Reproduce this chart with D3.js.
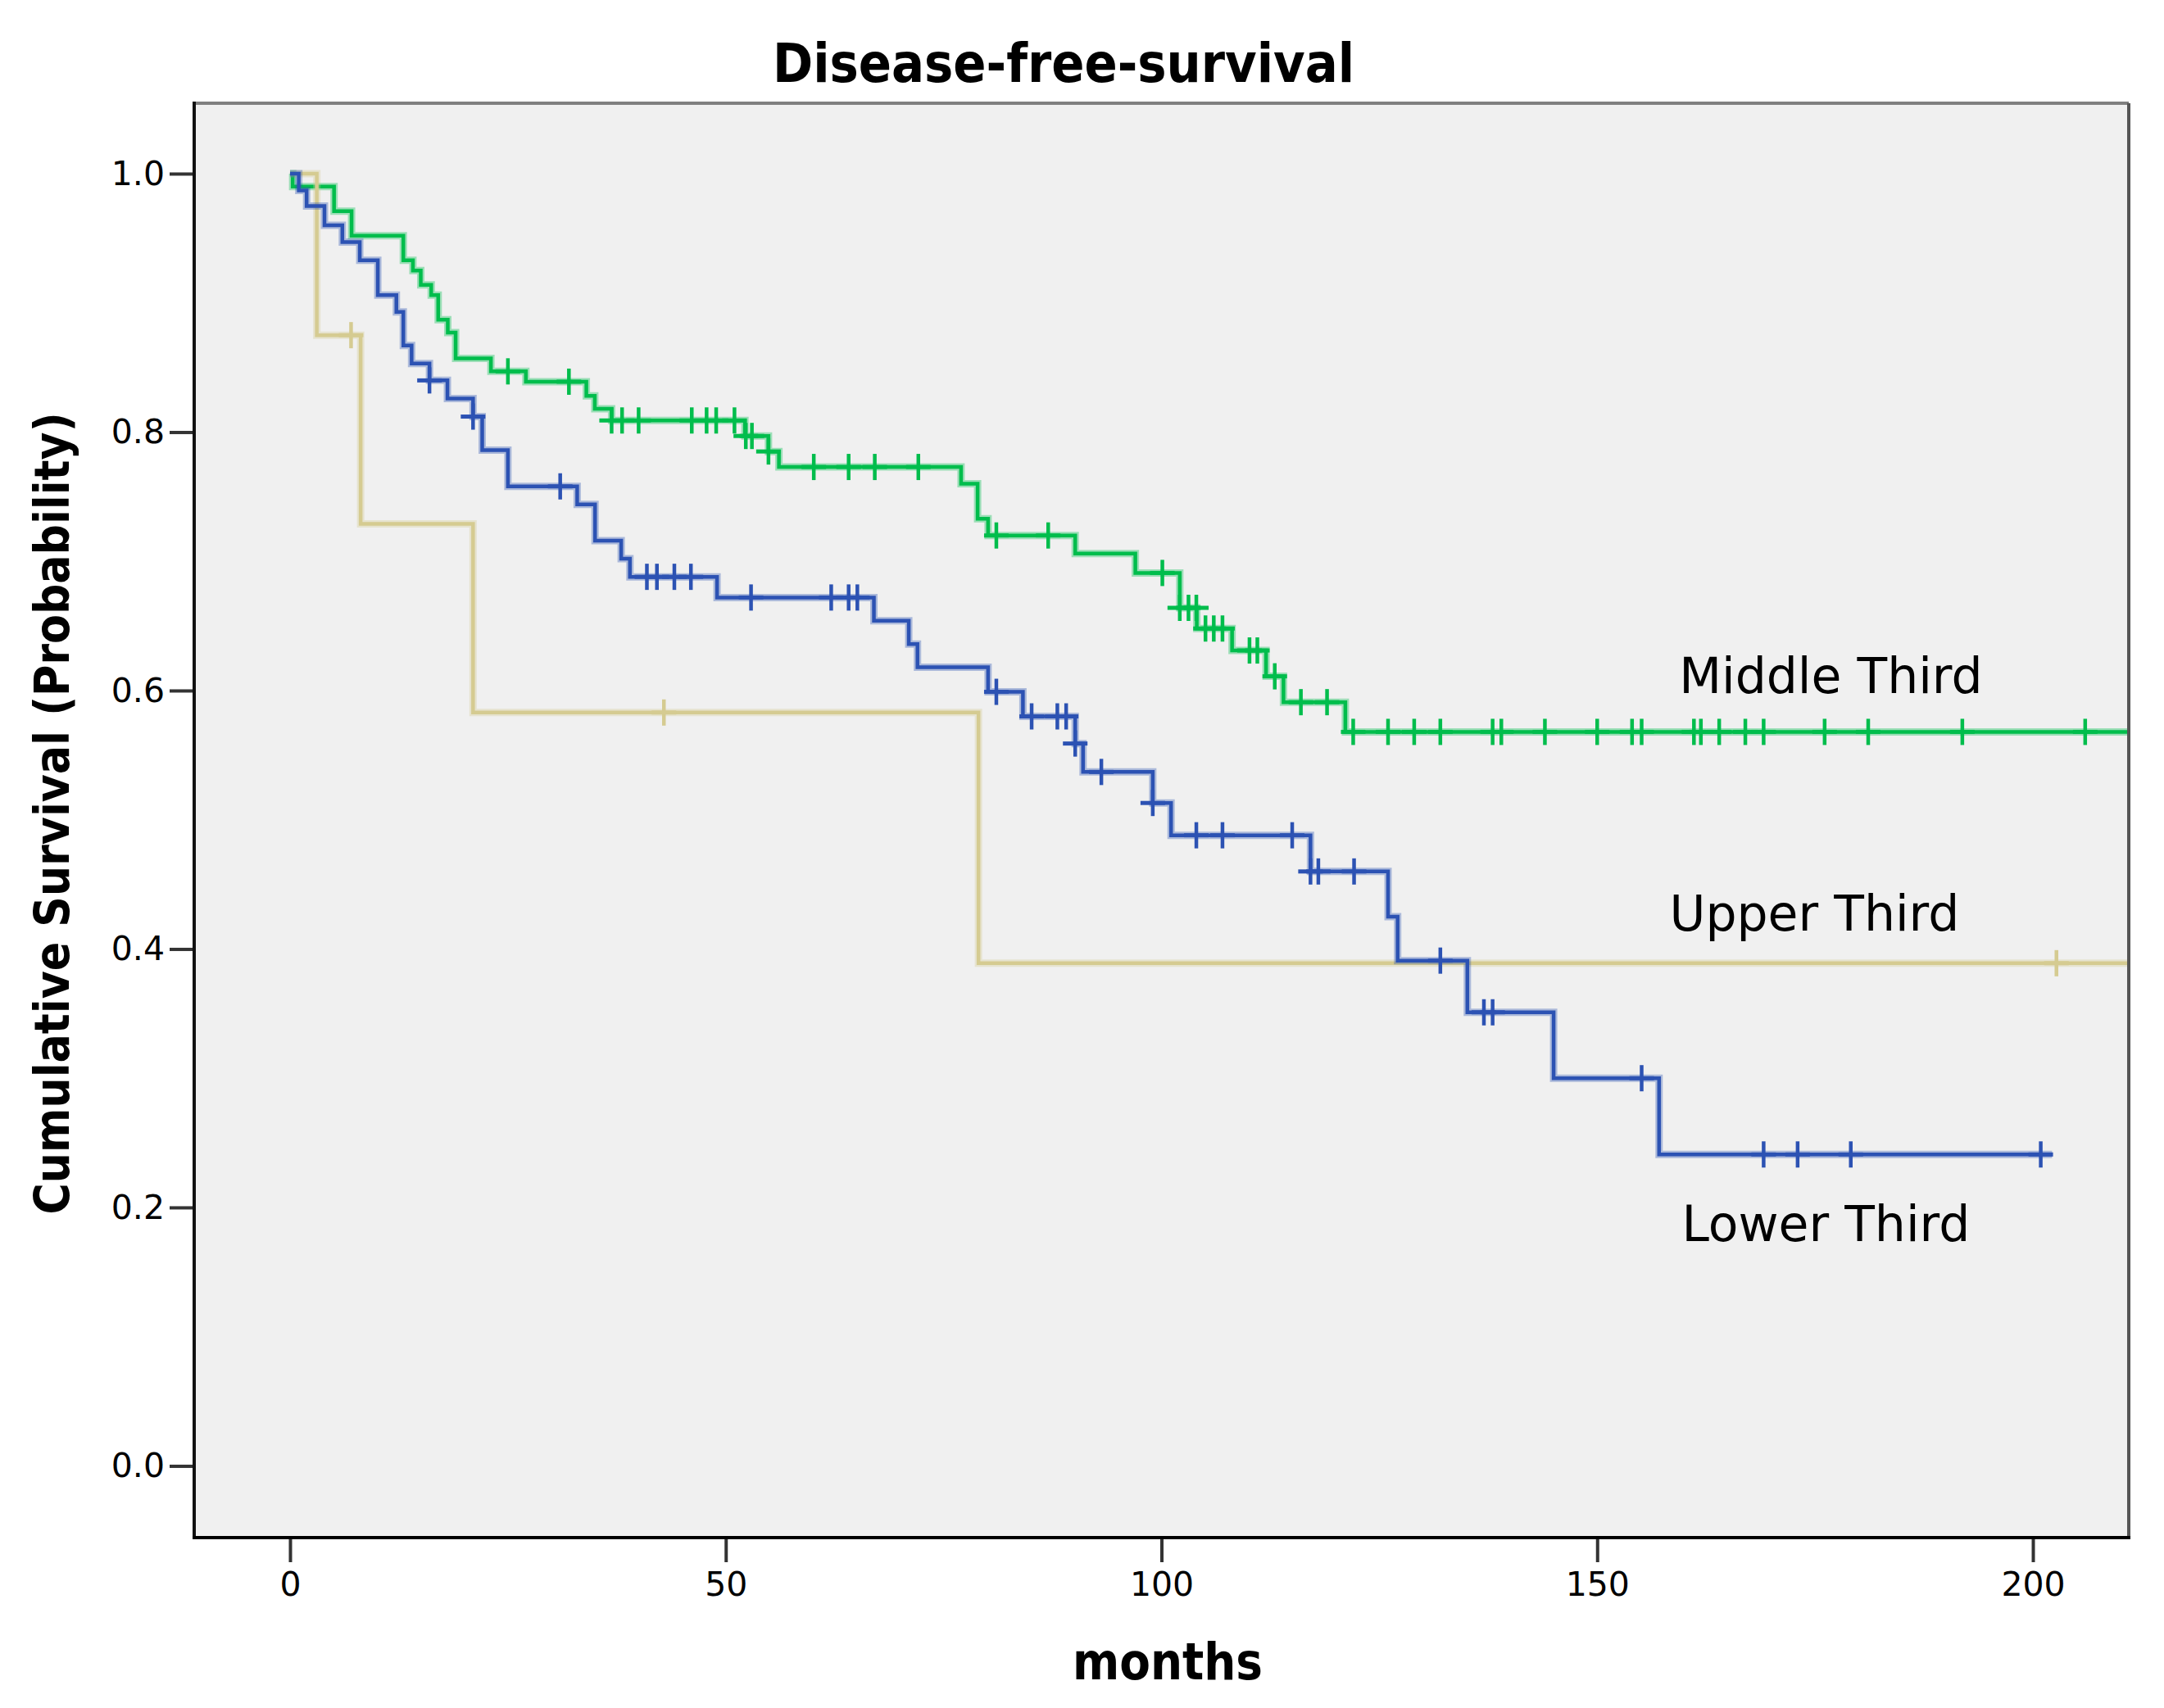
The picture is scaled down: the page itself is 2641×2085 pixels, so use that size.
<!DOCTYPE html>
<html>
<head>
<meta charset="utf-8">
<script src="https://cdn.jsdelivr.net/npm/d3@7"></script>
<style>
  body { margin: 0; background: #ffffff; }
  svg { display: block; }
</style>
</head>
<body>
<svg id="chart" width="2641" height="2085"></svg>
<script>
"use strict";

// Kaplan-Meier curves: step times (months) and survival after each drop
var groups = ["Middle Third", "Upper Third", "Lower Third"];

var middleTimes = [0.3, 5.05, 7.06, 13.0, 14.1, 15.0, 16.2, 17.0, 18.1, 19.0, 23.05, 27.06, 34.0, 34.97, 36.9,
  52.2, 54.9, 56.1, 77.0, 78.9, 80.1, 90.1, 97.0, 102.1, 104.05, 108.1, 112.0, 114.0, 121.1];
var middleSurv = [0.990, 0.971, 0.952, 0.933, 0.925, 0.914, 0.906, 0.887, 0.877, 0.857, 0.847, 0.839, 0.828, 0.818, 0.809,
  0.797, 0.785, 0.773, 0.760, 0.733, 0.720, 0.706, 0.691, 0.664, 0.648, 0.631, 0.611, 0.591, 0.568];
var middleCensored = [25.0, 32.0, 36.9, 38.1, 40.0, 46.1, 47.8, 48.9, 51.0, 52.3, 53.0, 54.9, 60.1, 64.1, 67.1, 72.1,
  81.05, 87.0, 100.1, 102.1, 103.1, 104.0, 105.05, 106.0, 107.0, 110.1, 111.0, 113.0, 116.0, 119.0, 122.0, 126.0,
  129.0, 132.0, 138.0, 139.0, 144.0, 150.0, 154.0, 155.1, 161.1, 161.9, 164.0, 167.0, 169.1, 176.1, 181.1, 191.9, 206.0];
var middleEnd = 211;

var upperTimes = [3.07, 8.1, 21.0, 79.0];
var upperSurv = [0.875, 0.729, 0.583, 0.389];
var upperCensored = [7.0, 42.9, 202.7];
var upperEnd = 211;

var lowerTimes = [1.0, 1.9, 3.95, 6.0, 8.0, 10.07, 12.2, 13.0, 13.95, 16.0, 18.06, 21.0, 22.05, 25.0, 32.95, 35.0,
  38.0, 39.0, 49.0, 67.0, 71.0, 72.0, 80.1, 84.1, 90.1, 91.0, 99.0, 101.1, 117.1, 126.0, 127.1, 135.1, 145.0, 157.1];
var lowerSurv = [0.987, 0.975, 0.960, 0.947, 0.933, 0.906, 0.893, 0.867, 0.853, 0.840, 0.826, 0.812, 0.786, 0.758,
  0.744, 0.716, 0.702, 0.688, 0.672, 0.654, 0.636, 0.618, 0.599, 0.580, 0.559, 0.537, 0.513, 0.488, 0.460, 0.425,
  0.391, 0.351, 0.300, 0.241];
var lowerCensored = [16.0, 21.0, 31.0, 40.95, 42.1, 44.1, 46.0, 52.9, 62.1, 64.1, 65.1, 81.05, 85.1, 88.05, 89.06,
  90.1, 93.1, 99.0, 104.0, 107.0, 115.0, 117.1, 118.0, 122.1, 132.0, 137.0, 138.0, 155.1, 169.1, 173.0, 179.1, 200.9];
var lowerEnd = 202.2;

var xTicks = [0, 50, 100, 150, 200];
var yTicks = [0.0, 0.2, 0.4, 0.6, 0.8, 1.0];

var titleText = "Disease-free-survival";
var xLabel = "months";
var yLabel = "Cumulative Survival (Probability)";

// ---- layout ----
var plot = { left: 237, right: 2598, top: 126, bottom: 1877 };

var x = d3.scaleLinear().domain([-11, 211]).range([plot.left, plot.right]);
var y = d3.scaleLinear().domain([-0.0555, 1.0545]).range([plot.bottom, plot.top]);

var colors = {
  "Middle Third": "#00bd4c",
  "Upper Third": "#d5cb91",
  "Lower Third": "#2c52b3"
};

// where the curve names sit, in data units
var labelAt = {
  "Middle Third": [159.4, 0.598],
  "Upper Third": [158.3, 0.414],
  "Lower Third": [159.7, 0.174]
};

function buildSeries(name, times, surv, censored, end) {
  var pts = [[0, 1]];
  times.forEach(function(t, i) { pts.push([t, surv[i]]); });
  pts.push([end, surv[surv.length - 1]]);

  // survival at a given time (value after any drop at that time)
  function at(t) {
    var s = 1;
    for (var i = 0; i < times.length; i++) {
      if (times[i] <= t + 1e-9) s = surv[i];
    }
    return s;
  }
  return {
    name: name,
    points: pts,
    marks: censored.map(function(t) { return [t, at(t)]; })
  };
}

var series = [
  buildSeries("Middle Third", middleTimes, middleSurv, middleCensored, middleEnd),
  buildSeries("Upper Third", upperTimes, upperSurv, upperCensored, upperEnd),
  buildSeries("Lower Third", lowerTimes, lowerSurv, lowerCensored, lowerEnd)
];

var svg = d3.select("#chart");

// plot background
svg.append("rect")
  .attr("x", plot.left)
  .attr("y", plot.top)
  .attr("width", plot.right - plot.left)
  .attr("height", plot.bottom - plot.top)
  .style("fill", "#f0f0f0");

svg.append("clipPath").attr("id", "plotclip")
  .append("rect")
  .attr("x", plot.left)
  .attr("y", plot.top)
  .attr("width", plot.right - plot.left)
  .attr("height", plot.bottom - plot.top);

var line = d3.line()
  .x(function(d) { return x(d[0]); })
  .y(function(d) { return y(d[1]); })
  .curve(d3.curveStepAfter);

var curves = svg.append("g").attr("clip-path", "url(#plotclip)");

series.forEach(function(s) {
  var g = curves.append("g").attr("class", "curve");

  // soft halo like the original rendering
  g.append("path")
    .datum(s.points)
    .attr("d", line)
    .style("fill", "none")
    .style("stroke", colors[s.name])
    .style("stroke-opacity", 0.35)
    .style("stroke-width", 9);

  g.append("path")
    .datum(s.points)
    .attr("d", line)
    .style("fill", "none")
    .style("stroke", colors[s.name])
    .style("stroke-width", 4.5);

  // censor marks
  g.selectAll("line.cv")
    .data(s.marks)
    .enter()
    .append("line")
    .attr("class", "cv")
    .attr("x1", function(d) { return x(d[0]); })
    .attr("x2", function(d) { return x(d[0]); })
    .attr("y1", function(d) { return y(d[1]) - 16; })
    .attr("y2", function(d) { return y(d[1]) + 16; })
    .style("stroke", colors[s.name])
    .style("stroke-width", 4.5);

  g.selectAll("line.ch")
    .data(s.marks)
    .enter()
    .append("line")
    .attr("class", "ch")
    .attr("x1", function(d) { return x(d[0]) - 15; })
    .attr("x2", function(d) { return x(d[0]) + 15; })
    .attr("y1", function(d) { return y(d[1]); })
    .attr("y2", function(d) { return y(d[1]); })
    .style("stroke", colors[s.name])
    .style("stroke-width", 5);
});

// curve names
svg.selectAll("text.grp")
  .data(groups)
  .enter()
  .append("text")
  .attr("class", "grp")
  .attr("x", function(d) { return x(labelAt[d][0]); })
  .attr("y", function(d) { return y(labelAt[d][1]); })
  .style("font-family", "'DejaVu Sans', Verdana, sans-serif")
  .style("font-size", "60px")
  .style("fill", "#000")
  .text(function(d) { return d; });

// frame: top and right gray, left and bottom black
svg.append("line")
  .attr("x1", plot.left).attr("x2", plot.right)
  .attr("y1", plot.top).attr("y2", plot.top)
  .style("stroke", "#808080").style("stroke-width", 4);
svg.append("line")
  .attr("x1", plot.right).attr("x2", plot.right)
  .attr("y1", plot.top).attr("y2", plot.bottom)
  .style("stroke", "#555555").style("stroke-width", 4);

// axes
var xAxis = d3.axisBottom(x).tickValues(xTicks).tickSize(30).tickPadding(12)
  .tickFormat(d3.format("d"));
var yAxis = d3.axisLeft(y).tickValues(yTicks).tickSize(30).tickPadding(6)
  .tickFormat(d3.format(".1f"));

var gx = svg.append("g")
  .attr("transform", "translate(0," + plot.bottom + ")")
  .call(xAxis);
var gy = svg.append("g")
  .attr("transform", "translate(" + plot.left + ",0)")
  .call(yAxis);

[gx, gy].forEach(function(g) {
  g.select(".domain").remove();
  g.selectAll(".tick line").style("stroke", "#333").style("stroke-width", 4);
  g.selectAll(".tick text")
    .style("font-family", "'DejaVu Sans', Verdana, sans-serif")
    .style("font-size", "41px")
    .style("fill", "#000");
});

svg.append("line")
  .attr("x1", plot.left).attr("x2", plot.left)
  .attr("y1", plot.top - 2).attr("y2", plot.bottom + 2)
  .style("stroke", "#111").style("stroke-width", 4);
svg.append("line")
  .attr("x1", plot.left - 2).attr("x2", plot.right + 2)
  .attr("y1", plot.bottom).attr("y2", plot.bottom)
  .style("stroke", "#000").style("stroke-width", 4);

// titles
var boldFont = "'DejaVu Sans Condensed', 'DejaVu Sans', sans-serif";

svg.append("text")
  .attr("x", 1298)
  .attr("y", 100)
  .attr("text-anchor", "middle")
  .attr("textLength", 710)
  .attr("lengthAdjust", "spacingAndGlyphs")
  .style("font-family", boldFont)
  .style("font-stretch", "condensed")
  .style("font-weight", "bold")
  .style("font-size", "66px")
  .text(titleText);

svg.append("text")
  .attr("x", 1425)
  .attr("y", 2050)
  .attr("text-anchor", "middle")
  .attr("textLength", 232)
  .attr("lengthAdjust", "spacingAndGlyphs")
  .style("font-family", boldFont)
  .style("font-stretch", "condensed")
  .style("font-weight", "bold")
  .style("font-size", "62px")
  .text(xLabel);

svg.append("text")
  .attr("transform", "translate(84,993) rotate(-90)")
  .attr("text-anchor", "middle")
  .attr("textLength", 979)
  .attr("lengthAdjust", "spacingAndGlyphs")
  .style("font-family", boldFont)
  .style("font-stretch", "condensed")
  .style("font-weight", "bold")
  .style("font-size", "58px")
  .text(yLabel);
</script>
</body>
</html>
